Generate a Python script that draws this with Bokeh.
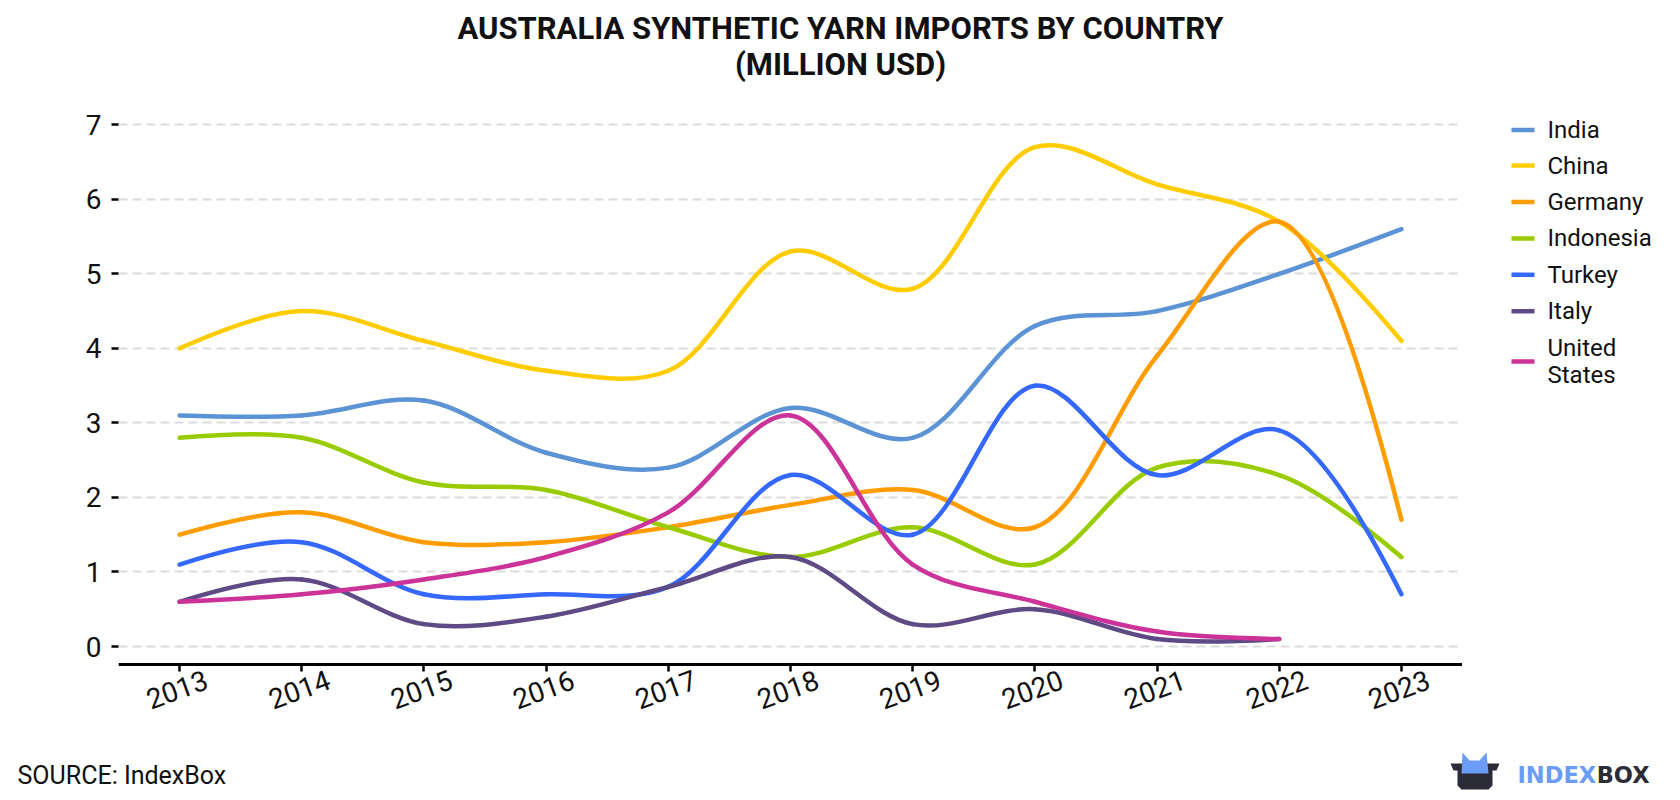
from bokeh.plotting import figure
from bokeh.layouts import column, row
from bokeh.models import Range1d, FixedTicker, CustomLabelingPolicy
from bokeh.core.properties import value
from bokeh.embed import file_html
from bokeh.resources import INLINE

# ---------------- data ----------------
years = [2013, 2014, 2015, 2016, 2017, 2018, 2019, 2020, 2021, 2022, 2023]
india = [3.1, 3.1, 3.3, 2.6, 2.4, 3.2, 2.8, 4.3, 4.5, 5.0, 5.6]
china = [4.0, 4.5, 4.1, 3.7, 3.7, 5.3, 4.8, 6.7, 6.2, 5.7, 4.1]
germany = [1.5, 1.8, 1.4, 1.4, 1.6, 1.9, 2.1, 1.6, 3.9, 5.7, 1.7]
indonesia = [2.8, 2.8, 2.2, 2.1, 1.6, 1.2, 1.6, 1.1, 2.4, 2.3, 1.2]
turkey = [1.1, 1.4, 0.7, 0.7, 0.8, 2.3, 1.5, 3.5, 2.3, 2.9, 0.7]
italy = [0.6, 0.9, 0.3, 0.4, 0.8, 1.2, 0.3, 0.5, 0.1, 0.1]
united_states = [0.6, 0.7, 0.9, 1.2, 1.8, 3.1, 1.1, 0.6, 0.2, 0.1]

series_names = ["India", "China", "Germany", "Indonesia", "Turkey", "Italy", "United States"]
series_values = [india, china, germany, indonesia, turkey, italy, united_states]
series_colors = ["#5B93D5", "#FFCC00", "#FF9C00", "#99CC00", "#3568FF", "#5E4A85", "#CC3399"]
y_ticks = [0, 1, 2, 3, 4, 5, 6, 7]
year_labels = [str(y) for y in years]

title_1 = "AUSTRALIA SYNTHETIC YARN IMPORTS BY COUNTRY"
title_2 = "(MILLION USD)"
source_text = "SOURCE: IndexBox"

# ---------------- layout constants (page pixels) ----------------
PAGE_W = 1672
TOP_H = 100                  # title strip        page y   0..100
MID_H = 640                  # plot + legend      page y 100..740
BOT_H = 52                   # footer             page y 740..792
MAIN_W = 1462
LEG_W = PAGE_W - MAIN_W

BL, BR, BT, BB = 118, 0, 9, 12
FRAME_TOP, FRAME_BOT = TOP_H + BT, TOP_H + MID_H - BB     # 109 .. 728
ZERO_PX = 646                                             # page y of value 0
KY = 74.53                                                # px per million USD
Y0 = -(FRAME_BOT - ZERO_PX) / KY
Y1 = Y0 + (FRAME_BOT - FRAME_TOP) / KY
AXIS_Y = -(664 - ZERO_PX) / KY                            # x-axis line below zero
LABEL_Y = -(689 - ZERO_PX) / KY                           # centre of year labels
X0, X1 = 2012.5, 2023.5
KX = (MAIN_W - BL - BR) / (X1 - X0)

FONT = "Roboto"
TXT = "#111111"


def smooth_segments(xs, ys, s=1.0):
    """Centripetal Catmull-Rom spline through the points, as cubic bezier segments."""
    P = [(x * KX, y * KY) for x, y in zip(xs, ys)]
    n = len(P)
    tans = []
    for i in range(1, n - 1):
        (px_, py_), (tx, ty), (nx, ny) = P[i - 1], P[i], P[i + 1]
        d1x, d1y = px_ - tx, py_ - ty
        d2x, d2y = nx - tx, ny - ty
        d1a = (d1x * d1x + d1y * d1y) ** 0.25
        d2a = (d2x * d2x + d2y * d2y) ** 0.25
        numx = (d2a * d2a * d1x - d1a * d1a * d2x) * s
        numy = (d2a * d2a * d1y - d1a * d1a * d2y) * s
        den1 = 3 * d2a * (d1a + d2a)
        den2 = 3 * d1a * (d1a + d2a)
        tans.append(((tx + numx / den1, ty + numy / den1),
                     (tx - numx / den2, ty - numy / den2)))

    def quad(p0, p1, q):
        return (p0, p1,
                (p0[0] + 2 / 3 * (q[0] - p0[0]), p0[1] + 2 / 3 * (q[1] - p0[1])),
                (p1[0] + 2 / 3 * (q[0] - p1[0]), p1[1] + 2 / 3 * (q[1] - p1[1])))

    segs = [quad(P[0], P[1], tans[0][0])]
    for i in range(2, n - 1):
        segs.append((P[i - 1], P[i], tans[i - 2][1], tans[i - 1][0]))
    segs.append(quad(P[n - 2], P[n - 1], tans[n - 3][1]))
    out = dict(x0=[], y0=[], x1=[], y1=[], cx0=[], cy0=[], cx1=[], cy1=[])
    for a, b, c0, c1 in segs:
        out["x0"].append(a[0] / KX); out["y0"].append(a[1] / KY)
        out["x1"].append(b[0] / KX); out["y1"].append(b[1] / KY)
        out["cx0"].append(c0[0] / KX); out["cy0"].append(c0[1] / KY)
        out["cx1"].append(c1[0] / KX); out["cy1"].append(c1[1] / KY)
    return out


def blank(width, height, x_lo, x_hi, y_top, y_bottom, bt=0, bb=0):
    f = figure(width=width, height=height, x_range=Range1d(x_lo, x_hi),
               y_range=Range1d(y_bottom, y_top), output_backend="svg",
               toolbar_location=None, title_location=None,
               x_axis_type=None, y_axis_type=None,
               min_border=0, min_border_left=0, min_border_right=0,
               min_border_top=bt, min_border_bottom=bb)
    f.outline_line_color = None
    f.xgrid.visible = False
    f.ygrid.visible = False
    f.background_fill_color = "white"
    f.border_fill_color = "white"
    return f


# ---------------- title strip (page coords, y downward) ----------------
top = blank(PAGE_W, TOP_H, 0, PAGE_W, 0, TOP_H)
top.text(x=[840, 840], y=[28.3, 63.8], text=[title_1, title_2], text_align="center",
         text_baseline="middle", text_font=value(FONT), text_font_style="bold",
         text_font_size="31px", text_color=TXT)

# ---------------- main chart ----------------
p = figure(width=MAIN_W, height=MID_H, x_range=Range1d(X0, X1), y_range=Range1d(Y0, Y1),
           output_backend="svg", toolbar_location=None, title_location=None,
           min_border_left=BL, min_border_right=BR, min_border_top=BT, min_border_bottom=BB)
p.outline_line_color = None
p.background_fill_color = "white"
p.border_fill_color = "white"

p.xgrid.grid_line_color = None
p.ygrid.grid_line_color = "#dcdcdc"
p.ygrid.grid_line_dash = "9 5"
p.ygrid.grid_line_width = 2

p.yaxis.ticker = FixedTicker(ticks=y_ticks)
p.xaxis.ticker = FixedTicker(ticks=years)

for ax in (p.xaxis[0], p.yaxis[0]):
    ax.major_label_text_font = FONT
    ax.major_label_text_color = TXT
    ax.major_tick_in = 0
    ax.major_tick_out = 7
    ax.major_tick_line_width = 2.5
    ax.major_tick_line_color = "black"
    ax.minor_tick_line_color = None

p.yaxis.major_label_text_font_size = "28px"
p.yaxis.axis_line_color = None
p.yaxis.major_label_standoff = 10

# x axis line sits a little below zero; its year labels are drawn as rotated text below
p.xaxis.fixed_location = AXIS_Y
p.xaxis.axis_line_width = 3
p.xaxis.axis_line_color = "black"
p.xaxis.major_label_standoff = 0
p.xaxis.major_label_text_font_size = "2px"
p.xaxis.major_label_policy = CustomLabelingPolicy(
    code="for (const i of indices) { indices.set(i, false) }\nreturn indices")

for name, vals, col in zip(series_names, series_values, series_colors):
    segs = smooth_segments(years[:len(vals)], vals)
    p.bezier(x0="x0", y0="y0", x1="x1", y1="y1", cx0="cx0", cy0="cy0", cx1="cx1", cy1="cy1",
             source=segs, line_color=col, line_width=4.5, line_cap="round")

p.text(x=years, y=[LABEL_Y] * len(years), text=year_labels, angle=0.35, text_align="center",
       text_baseline="middle", x_offset=-2.5, text_font=value(FONT), text_font_size="28px",
       text_color=TXT)

# ---------------- legend strip (page coords, aligned with the main frame) ----------------
leg = blank(LEG_W, MID_H, MAIN_W, PAGE_W, FRAME_TOP, FRAME_BOT, bt=BT, bb=BB)
legend_rows = [129.6, 165.0, 201.4, 237.9, 274.3, 310.7, 361.0]
leg.segment(x0=[1511] * 7, x1=[1534] * 7, y0=legend_rows, y1=legend_rows,
            line_color=series_colors, line_width=4.5)
lab_text, lab_y = [], []
for name, cy in zip(series_names, legend_rows):
    if name == "United States":
        lab_text += ["United", "States"]
        lab_y += [cy - 13.5, cy + 13.5]
    else:
        lab_text.append(name)
        lab_y.append(cy)
leg.text(x=[1547] * len(lab_text), y=lab_y, text=lab_text, text_align="left",
         text_baseline="middle", text_font=value(FONT), text_font_size="24px", text_color=TXT)

# ---------------- footer strip (page coords) ----------------
Y_BOT0 = TOP_H + MID_H
bot = blank(PAGE_W, BOT_H, 0, PAGE_W, Y_BOT0, Y_BOT0 + BOT_H)
bot.text(x=[17], y=[775], text=[source_text], text_align="left", text_baseline="middle",
         text_font=value(FONT), text_font_size="25px", text_color=TXT)
dark_x = [1450, 1499, 1496, 1492, 1492, 1488, 1461, 1457, 1457, 1453]
dark_y = [763, 763, 770, 770, 785, 789, 789, 785, 770, 770]
blue_x = [1461, 1462, 1469, 1479, 1486, 1488]
blue_y = [773, 752, 760, 760, 752, 773]
bot.patch(dark_x, dark_y, fill_color="#2B2C37", line_color=None)
bot.patch(blue_x, blue_y, fill_color="#6B9CF7", line_color=None)
bot.text(x=[1517], y=[774.5], text=["INDEX"], text_align="left", text_baseline="middle",
         text_font=value("DejaVu Sans"), text_font_style="bold", text_font_size="22.5px",
         text_color="#6B9CF7")
bot.text(x=[1649], y=[774.5], text=["BOX"], text_align="right", text_baseline="middle",
         text_font=value("DejaVu Sans"), text_font_style="bold", text_font_size="22.5px",
         text_color="#2B2C37")

layout = column(top, row(p, leg), bot)
open("out.html", "w").write(file_html(layout, INLINE))
